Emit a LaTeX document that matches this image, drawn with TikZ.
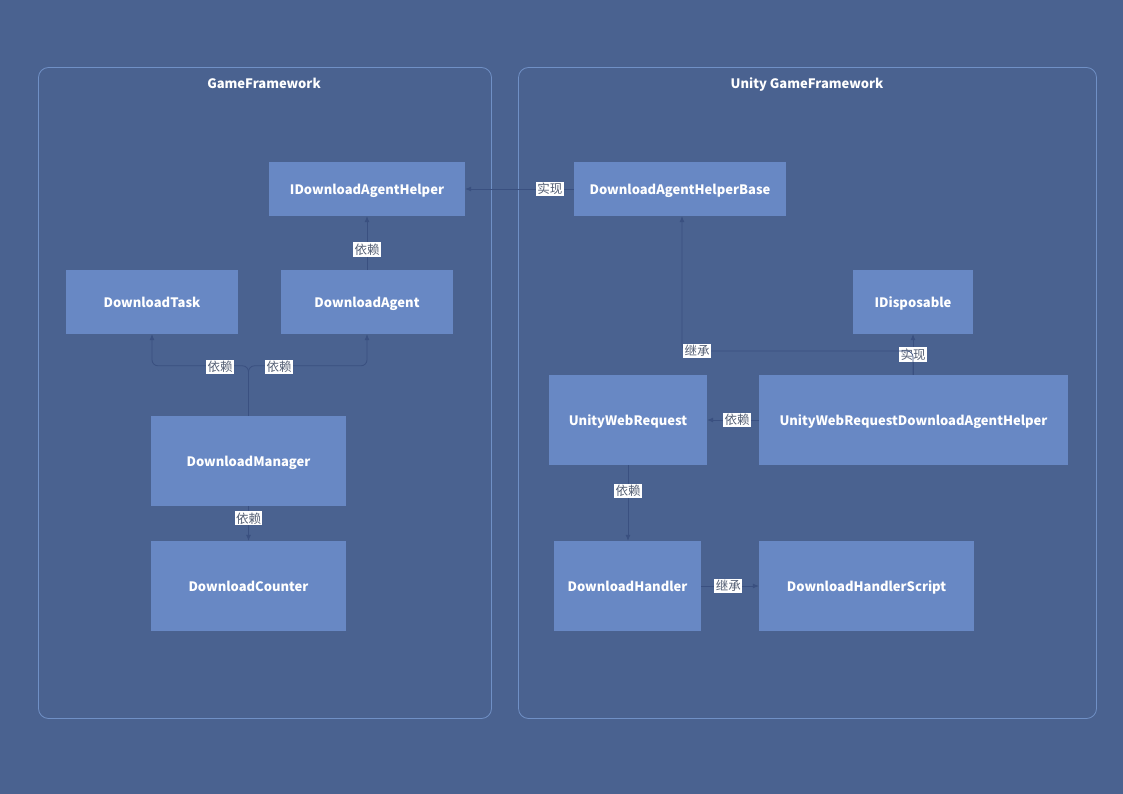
\documentclass[tikz,border=0pt]{standalone}
\usepackage{fontspec}
\setmainfont{Noto Sans CJK SC}
\usetikzlibrary{arrows.meta}
\definecolor{bgc}{HTML}{4A6290}
\definecolor{nodec}{HTML}{6888C4}
\definecolor{framec}{HTML}{7090C6}
\definecolor{edgec}{HTML}{3A5080}
\definecolor{labtxt}{HTML}{556075}
\tikzset{
  cls/.style={fill=nodec,draw=none,text=white,font=\bfseries\fontsize{13}{15}\selectfont,inner sep=0pt,anchor=center,text height=11pt,text depth=0pt},
  frame/.style={draw=framec,line width=0.8pt,rounded corners=10pt},
  ftitle/.style={text=white,font=\bfseries\fontsize{13}{15}\selectfont,text height=11pt,text depth=0pt,inner sep=0pt},
  conn/.style={draw=edgec,line width=0.8pt,-{Latex[length=6pt,width=5pt]}},
  lab/.style={fill=white,text=labtxt,font=\fontsize{12.5}{14}\selectfont,inner sep=1.3pt}
}
\begin{document}
\begin{tikzpicture}[x=1pt,y=-1pt]
\fill[bgc] (0,0) rectangle (1123,794);
\useasboundingbox (0,0) rectangle (1123,794);
% frames
\draw[frame] (38.5,67.5) rectangle (491.5,718.5);
\draw[frame] (518.5,67.5) rectangle (1096.5,718.5);
\node[ftitle] (t1) at (264,83) {GameFramework};
\node[ftitle] (t2) at (807,83) {Unity GameFramework};
% nodes
\node[cls,minimum width=196pt,minimum height=54pt] (idah) at (367,189) {IDownloadAgentHelper};
\node[cls,minimum width=172pt,minimum height=64pt] (task) at (152,302) {DownloadTask};
\node[cls,minimum width=172pt,minimum height=64pt] (agent) at (367,302) {DownloadAgent};
\node[cls,minimum width=195pt,minimum height=90pt] (mgr) at (248.5,461) {DownloadManager};
\node[cls,minimum width=195pt,minimum height=90pt] (cnt) at (248.5,586) {DownloadCounter};
\node[cls,minimum width=212pt,minimum height=54pt] (dahb) at (680,189) {DownloadAgentHelperBase};
\node[cls,minimum width=120pt,minimum height=64pt] (idisp) at (913,302) {IDisposable};
\node[cls,minimum width=158pt,minimum height=90pt] (uwr) at (628,420) {UnityWebRequest};
\node[cls,minimum width=309pt,minimum height=90pt] (uwrdah) at (913.5,420) {UnityWebRequestDownloadAgentHelper};
\node[cls,minimum width=147pt,minimum height=90pt] (dh) at (627.5,586) {DownloadHandler};
\node[cls,minimum width=215pt,minimum height=90pt] (dhs) at (866.5,586) {DownloadHandlerScript};
% connectors
\draw[conn,rounded corners=6pt] (mgr.north) -- ++(0,-50) -| (task.south);
\draw[conn,rounded corners=6pt] (mgr.north) -- ++(0,-50) -| (agent.south);
\node[lab] (l1) at (220,367) {依赖};
\node[lab] (l2) at (279,367) {依赖};
\draw[conn] (agent.north) -- node[lab,pos=0.38] (l3) {依赖} (idah.south);
\draw[conn] (mgr.south) -- node[lab,pos=0.35] (l4) {依赖} (cnt.north);
\draw[conn] (dahb.west) -- node[lab,pos=0.22] (l5) {实现} (idah.east);
\draw[conn] (uwrdah.north -| idisp.south) -- node[lab,pos=0.5] (l6) {实现} (idisp.south);
\coordinate (bend) at (913,351);
\draw[conn,rounded corners=6pt] (uwrdah.north -| idisp.south) -- (bend) -| ([xshift=2pt]dahb.south);
\node[lab] (l7) at (697,351) {继承};
\draw[conn] (uwrdah.west) -- node[lab,pos=0.42] (l8) {依赖} (uwr.east);
\draw[conn] (uwr.south) -- node[lab,pos=0.34] (l9) {依赖} (uwr.south |- dh.north);
\draw[conn] (dh.east) -- node[lab,pos=0.47] (l10) {继承} (dhs.west);
\end{tikzpicture}
\end{document}
